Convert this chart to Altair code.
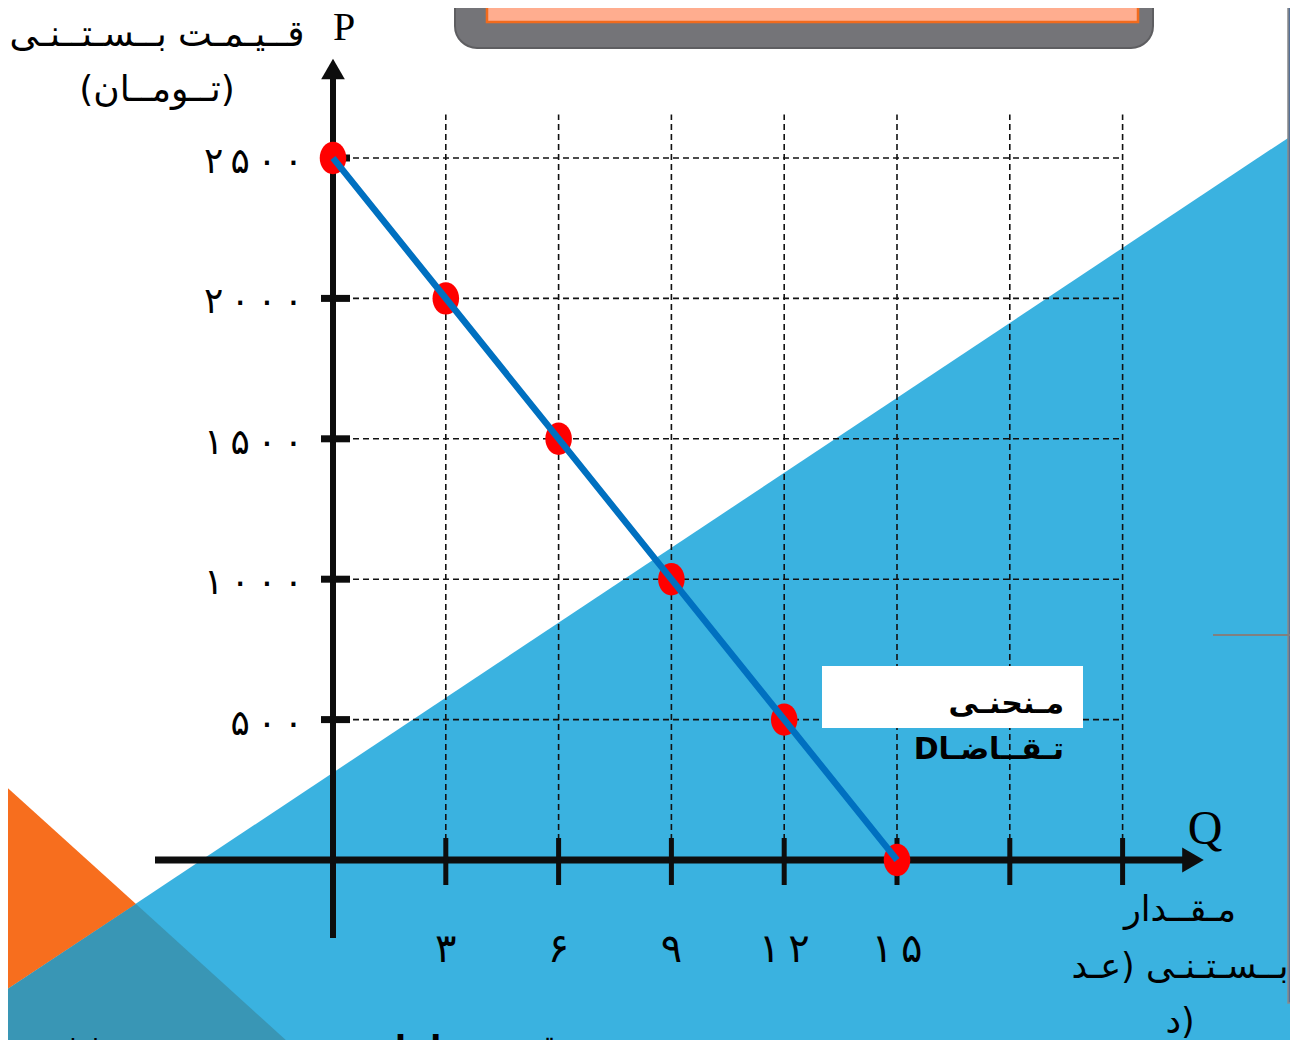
import altair as alt
import pandas as pd

# ---------------- data ----------------
quantity = [0, 3, 6, 9, 12, 15]
price = [2500, 2000, 1500, 1000, 500, 0]
q_grid = [3, 6, 9, 12, 15, 18, 21]
p_grid = [500, 1000, 1500, 2000, 2500]
q_label_values = [3, 6, 9, 12, 15]
TS = "\u2009"  # thin space between the spaced-out digits
q_labels = ["۳", "۶", "۹", TS.join("۱۲"), TS.join("۱۵")]
p_labels = [TS.join("۵۰۰"), TS.join("۱۰۰۰"), TS.join("۱۵۰۰"), TS.join("۲۰۰۰"), TS.join("۲۵۰۰")]
y_title = ["قــیـمـت بــسـتــنـی", "(تــومــان)"]
x_title = ["مـقــدار", "بــسـتـنـی (عـد", "د)"]
legend_lines = ["مـنحنـی", "Dتـقــاضـا"]
bottom_texts = ["قیمت را با", "p", "price مخفف"]

# ---------------- layout (slide pixel mapping) ----------------
W, H = 1282, 1032
X0, PXQ = 333, 37.6      # page x of Q=0, pixels per unit of Q
Y0, PXP = 860, 0.2808    # page y of P=0, pixels per toman


def fq(px):
    return (px - X0) / PXQ


def fp(py):
    return (Y0 - py) / PXP


xs = alt.Scale(domain=[fq(8), fq(8 + W)], nice=False, zero=False)
ys = alt.Scale(domain=[fp(8 + H), fp(8)], nice=False, zero=False)


def X(f="q"):
    return alt.X(f"{f}:Q", scale=xs, axis=None)


def Y(f="p"):
    return alt.Y(f"{f}:Q", scale=ys, axis=None)


def lb(px):  # white / blue diagonal edge of the slide background
    return 770 - 0.6646 * (px - 337)


layers = []

# ---- slide background decoration ----
blue = pd.DataFrame({"q": [fq(0), fq(1300)], "p": [fp(lb(0)), fp(lb(1300))], "p2": [fp(1080)] * 2})
layers.append(alt.Chart(blue).mark_area(color="#3AB2E0", opacity=1, orient="vertical")
              .encode(x=X(), y=Y(), y2="p2"))
orange = pd.DataFrame({"q": [fq(0), fq(136)], "p": [fp(781), fp(904)], "p2": [fp(lb(0)), fp(904)]})
layers.append(alt.Chart(orange).mark_area(color="#F76E1E", opacity=1, orient="vertical")
              .encode(x=X(), y=Y(), y2="p2"))
teal = pd.DataFrame({"q": [fq(0), fq(136), fq(310)], "p": [fp(lb(0)), fp(904), fp(1062)],
                     "p2": [fp(1080)] * 3})
layers.append(alt.Chart(teal).mark_area(color="#3996B5", opacity=1, orient="vertical")
              .encode(x=X(), y=Y(), y2="p2"))
strip = pd.DataFrame({"q": [fq(1288)], "q2": [fq(1310)], "p": [fp(-10)], "p2": [fp(1003)]})
layers.append(alt.Chart(strip).mark_rect(color="#556F95", stroke="#8A8A8A", strokeWidth=1.5)
              .encode(x=X(), x2="q2", y=Y(), y2="p2"))
gline = pd.DataFrame({"q": [fq(1213)], "q2": [fq(1300)], "p": [fp(635)]})
layers.append(alt.Chart(gline).mark_rule(color="#808080", strokeWidth=2)
              .encode(x=X(), x2="q2", y=Y()))

# title box (cut at top of slide)
tbox = pd.DataFrame({"q": [fq(455)], "q2": [fq(1153)], "p": [fp(-40)], "p2": [fp(48)]})
layers.append(alt.Chart(tbox).mark_rect(color="#747478", cornerRadius=22, stroke="#5E5E61", strokeWidth=2)
              .encode(x=X(), x2="q2", y=Y(), y2="p2"))
ibox = pd.DataFrame({"q": [fq(487)], "q2": [fq(1138)], "p": [fp(-30)], "p2": [fp(22)]})
layers.append(alt.Chart(ibox).mark_rect(fill="#FFAD8F", stroke="#F26B1D", strokeWidth=2.5)
              .encode(x=X(), x2="q2", y=Y(), y2="p2"))

# ---- grid ----
vgrid = pd.DataFrame({"q": q_grid, "p": [0] * len(q_grid), "p2": [2655] * len(q_grid)})
layers.append(alt.Chart(vgrid).mark_rule(color="#111111", strokeWidth=1.6, strokeDash=[6, 4])
              .encode(x=X(), y=Y(), y2="p2"))
hgrid = pd.DataFrame({"p": p_grid, "q": [0] * len(p_grid), "q2": [21] * len(p_grid)})
layers.append(alt.Chart(hgrid).mark_rule(color="#111111", strokeWidth=1.6, strokeDash=[6, 4])
              .encode(x=X(), x2="q2", y=Y()))

# legend box
lbox = pd.DataFrame({"q": [fq(822)], "q2": [fq(1083)], "p": [fp(666)], "p2": [fp(728)]})
layers.append(alt.Chart(lbox).mark_rect(color="#FFFFFF").encode(x=X(), x2="q2", y=Y(), y2="p2"))

# ---- axes ----
yaxis = pd.DataFrame({"q": [0], "p": [fp(938)], "p2": [fp(76)]})
layers.append(alt.Chart(yaxis).mark_rule(color="#0D0D0D", strokeWidth=6)
              .encode(x=X(), y=Y(), y2="p2"))
xaxis = pd.DataFrame({"p": [0], "q": [fq(155)], "q2": [fq(1184)]})
layers.append(alt.Chart(xaxis).mark_rule(color="#0D0D0D", strokeWidth=7)
              .encode(x=X(), x2="q2", y=Y()))
yarrow = pd.DataFrame({"q": [0], "p": [fp(69)]})
layers.append(alt.Chart(yarrow).mark_point(shape="triangle-up", filled=True, color="#0D0D0D",
                                            opacity=1, size=560).encode(x=X(), y=Y()))
xarrow = pd.DataFrame({"q": [fq(1193)], "p": [0]})
layers.append(alt.Chart(xarrow).mark_point(shape="triangle-right", filled=True, color="#0D0D0D",
                                            opacity=1, size=620).encode(x=X(), y=Y()))
xticks = pd.DataFrame({"q": q_grid, "p": [fp(885)] * len(q_grid), "p2": [fp(838)] * len(q_grid)})
layers.append(alt.Chart(xticks).mark_rule(color="#0D0D0D", strokeWidth=5)
              .encode(x=X(), y=Y(), y2="p2"))
yticks = pd.DataFrame({"p": p_grid, "q": [fq(321)] * len(p_grid), "q2": [fq(350)] * len(p_grid)})
layers.append(alt.Chart(yticks).mark_rule(color="#0D0D0D", strokeWidth=7)
              .encode(x=X(), x2="q2", y=Y()))

# ---- demand data ----
demand = pd.DataFrame({"q": quantity, "p": price})
ellipse = "M0,-1A0.82,1,0,1,1,0,1A0.82,1,0,1,1,0,-1Z"
layers.append(alt.Chart(demand).mark_point(shape=ellipse, filled=True, color="#FF0000",
                                            opacity=1, size=1050, strokeWidth=0).encode(x=X(), y=Y()))
layers.append(alt.Chart(demand).mark_line(color="#0070C0", strokeWidth=6.5)
              .encode(x=X(), y=Y()))

# ---- text ----
AR = "DejaVu Sans"
ylab = pd.DataFrame({"q": [0] * len(p_grid), "p": p_grid, "t": p_labels})
layers.append(alt.Chart(ylab).mark_text(font=AR, fontSize=36, align="right", baseline="middle",
                                         dx=-30, dy=4, color="#000000")
              .encode(x=X(), y=Y(), text="t:N"))
xlab = pd.DataFrame({"q": q_label_values, "p": [0] * len(q_label_values), "t": q_labels})
layers.append(alt.Chart(xlab).mark_text(font=AR, fontSize=40, align="center", baseline="middle",
                                         dy=90, color="#000000")
              .encode(x=X(), y=Y(), text="t:N"))


def txt(q, p, t, **kw):
    d = pd.DataFrame({"q": [q], "p": [p], "t": [t]})
    return alt.Chart(d).mark_text(color="#000000", **kw).encode(x=X(), y=Y(), text="t:N")


layers.append(txt(0, fp(40), "P", font="Liberation Serif", fontSize=40, align="left",
                  baseline="alphabetic", dx=0))
layers.append(txt(fq(1205), 0, "Q", font="Liberation Serif", fontSize=48, align="center",
                  baseline="alphabetic", dy=-16))
layers.append(txt(fq(157), fp(46), y_title[0], font=AR, fontSize=36, align="center", baseline="alphabetic"))
layers.append(txt(fq(157), fp(101), y_title[1], font=AR, fontSize=36, align="center", baseline="alphabetic"))
for line, by in zip(x_title, [921, 978, 1033]):
    layers.append(txt(fq(1180), fp(by), line, font=AR, fontSize=35, align="center", baseline="alphabetic"))
layers.append(txt(fq(1064), fp(713), legend_lines[0], font=AR, fontSize=30, fontWeight="bold",
                  align="right", baseline="alphabetic"))
layers.append(txt(fq(1064), fp(759), legend_lines[1], font=AR, fontSize=30, fontWeight="bold",
                  align="right", baseline="alphabetic"))
layers.append(txt(fq(560), fp(1058), bottom_texts[0], font=AR, fontSize=32, fontWeight="bold",
                  align="right", baseline="alphabetic"))
layers.append(txt(fq(282), fp(1058), bottom_texts[1], font=AR, fontSize=32, fontWeight="bold",
                  align="center", baseline="alphabetic"))
layers.append(txt(fq(150), fp(1058), bottom_texts[2], font=AR, fontSize=32, fontWeight="bold",
                  align="right", baseline="alphabetic"))

chart = alt.layer(*layers).properties(
    width=W, height=H, padding=0, autosize=alt.AutoSizeParams(type="none"),
    background="#FFFFFF",
).configure_view(stroke=None)

chart.save("out.html", embed_options={"renderer": "svg", "actions": False})
